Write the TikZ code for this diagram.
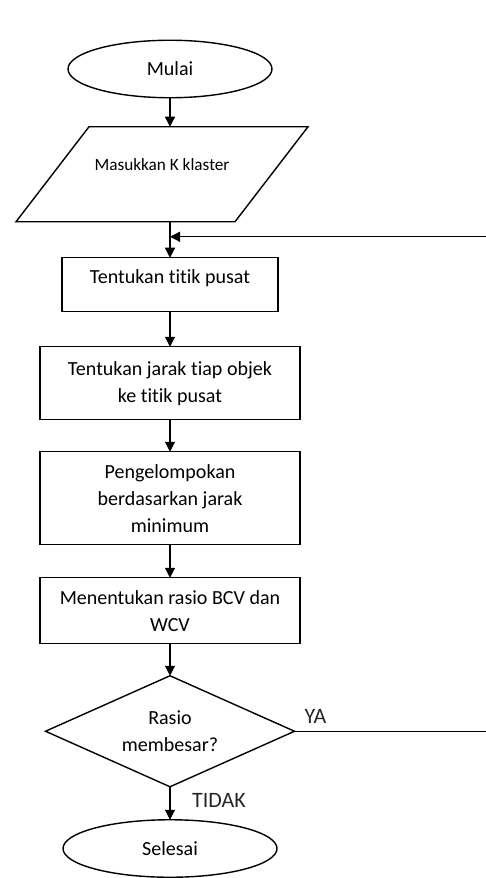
\documentclass[tikz,border=0pt]{standalone}
\usepackage{fontspec}
\setmainfont{Carlito}[Ligatures=NoCommon]
\usetikzlibrary{arrows.meta}
\usetikzlibrary{positioning, shapes.geometric}

\begin{document}
\begin{tikzpicture}[
    every node/.style={font=\fontsize{11.4}{15.4}\selectfont, align=center, outer sep=0pt},
    flow/.style={line width=0.7pt, -{Triangle[length=2mm,width=2mm]}},
    box/.style={draw, line width=0.8pt, rectangle, minimum width=5.2cm, inner sep=2pt},
    terminal/.style={draw, line width=0.8pt, ellipse, minimum height=1.15cm, inner sep=0pt},
    answer/.style={font=\fontsize{12.5}{14}\selectfont, text=black!85},
]
    \useasboundingbox (0,0) rectangle (9.7,-17.56);
    \node[terminal, minimum width=4.08cm] (mulai) at (3.4,-1.38) {Mulai};
    \node[minimum width=5.84cm, minimum height=1.9cm, text depth=0.4cm,
          font=\fontsize{9.8}{12}\selectfont, below=0.58cm of mulai, xshift=-0.16cm] (input) {Masukkan K klaster};
    \draw[line width=0.8pt] ([xshift=1.46cm]input.north west) -- (input.north east)
        -- ([xshift=-1.46cm]input.south east) -- (input.south west) -- cycle;
    \node[box, minimum width=4.32cm, minimum height=1.08cm, text depth=0.31cm,
          below=0.72cm of input, xshift=0.16cm] (pusat) {Tentukan titik pusat};
    \node[box, minimum height=1.46cm, below=0.7cm of pusat] (jarak) {Tentukan jarak tiap objek\\ke titik pusat};
    \node[box, minimum height=1.86cm, below=0.64cm of jarak] (kelompok) {Pengelompokan\\berdasarkan jarak\\minimum};
    \node[box, minimum height=1.32cm, below=0.66cm of kelompok] (rasio) {Menentukan rasio BCV dan\\WCV};
    \node[draw, line width=0.8pt, diamond, aspect=2.24, minimum width=4.98cm, minimum height=2.22cm,
          inner sep=0pt, below=0.64cm of rasio] (cek) {Rasio\\membesar?};
    \node[terminal, minimum width=4.28cm, below=0.66cm of cek] (selesai) {Selesai};
    \node[answer] (ya) at ([xshift=0.42cm, yshift=0.3cm]cek.east) {YA};
    \node[answer] (tidak) at ([xshift=0.98cm, yshift=-0.28cm]cek.south) {TIDAK};
    \coordinate (join) at ([yshift=0.42cm]pusat.north);
    \coordinate (edge) at (9.9,0);

    \draw[flow] (mulai) -- (mulai |- input.north);
    \draw[flow] (input.south -| pusat) -- (pusat);
    \draw[flow] (pusat) -- (jarak);
    \draw[flow] (jarak) -- (kelompok);
    \draw[flow] (kelompok) -- (rasio);
    \draw[flow] (rasio) -- (cek);
    \draw[flow] (cek) -- (selesai);
    \draw[flow] (cek.east) -- (edge |- cek.east) |- (join);
\end{tikzpicture}
\end{document}
